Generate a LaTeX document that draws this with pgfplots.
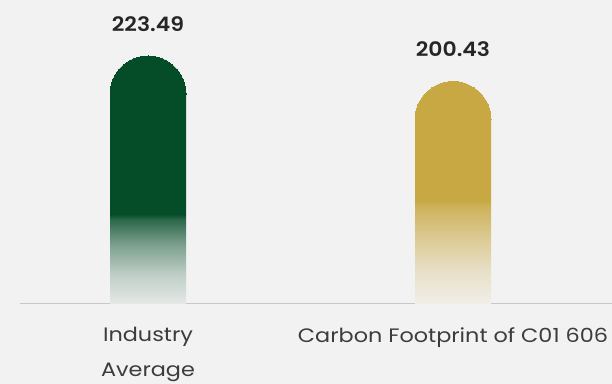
\documentclass[border=0pt]{standalone}
\usepackage{pgfplots}
\pgfplotsset{compat=1.18}
\usepackage{pgfplotstable}
\usepackage{fontspec}
\setmainfont{Poppins}[FakeStretch=1.15]
\newfontfamily\semib{Poppins SemiBold}[FakeStretch=1.1]
\definecolor{bgc}{RGB}{242,242,242}
\definecolor{gcol}{RGB}{5,77,41}
\definecolor{ycol}{RGB}{200,168,66}
\definecolor{linec}{RGB}{200,200,200}
\definecolor{txtc}{RGB}{38,38,38}
\colorlet{gA}{gcol!6!bgc}
\colorlet{gB}{gcol!22!bgc}
\colorlet{gC}{gcol!50!bgc}
\colorlet{gD}{gcol!84!bgc}
\colorlet{yA}{ycol!6!bgc}
\colorlet{yB}{ycol!25!bgc}
\colorlet{yC}{ycol!55!bgc}
\colorlet{yD}{ycol!85!bgc}
\pgfdeclareverticalshading{greenfade}{100bp}{color(0bp)=(gA); color(25bp)=(gA); color(32bp)=(gB); color(39bp)=(gC); color(45bp)=(gD); color(46.2bp)=(gcol); color(100bp)=(gcol)}
\pgfdeclareverticalshading{goldfade}{100bp}{color(0bp)=(yA); color(25bp)=(yA); color(34bp)=(yB); color(43bp)=(yC); color(51bp)=(yD); color(53bp)=(ycol); color(100bp)=(ycol)}
\pgfplotstableread{
x v lab
0 223.49 223.49
}\tabA
\pgfplotstableread{
x v lab
1 200.43 200.43
}\tabB
\begin{document}
\begin{tikzpicture}
\useasboundingbox (-20bp,-81bp) rectangle (592bp,303bp);
\clip (-20bp,-81bp) rectangle (592bp,303bp);
\fill[bgc] (-20bp,-81bp) rectangle (592bp,303bp);
\begin{axis}[
  at={(0,0)}, anchor=south west,
  scale only axis, width=592bp, height=303bp,
  xmin=-0.4197, xmax=1.5213, ymin=0, ymax=274.16,
  enlargelimits=false,
  axis x line=bottom, axis y line=none,
  axis line style={draw=linec, line width=1pt, -},
  xtick={0,1}, major tick length=0pt,
  xticklabels={Industry\\Average, Carbon Footprint of C01 606},
  xticklabel style={align=center, font=\fontsize{19.5}{35}\selectfont, text=txtc!90!white, yshift=-21bp},
  ytick=\empty,
  clip=false,
]
\addplot[ybar, bar width=76bp, bar shift=0pt, draw=none, shading=greenfade] table[x=x, y expr=\thisrow{v}-34.38] {\tabA};
\addplot[only marks, color=gcol, mark=*, mark size=38bp, mark options={draw=gcol, fill=gcol, line width=0pt}] table[x=x, y expr=\thisrow{v}-34.38] {\tabA};
\addplot[ybar, bar width=76bp, bar shift=0pt, draw=none, shading=goldfade] table[x=x, y expr=\thisrow{v}-34.38] {\tabB};
\addplot[only marks, color=ycol, mark=*, mark size=38bp, mark options={draw=ycol, fill=ycol, line width=0pt}] table[x=x, y expr=\thisrow{v}-34.38] {\tabB};
\addplot[draw=none, mark=none, nodes near coords, point meta=explicit symbolic,
  every node near coord/.append style={anchor=base, yshift=25bp, font=\fontsize{20}{22}\semib, text=txtc}]
  table[x=x, y=v, meta=lab] {\tabA};
\addplot[draw=none, mark=none, nodes near coords, point meta=explicit symbolic,
  every node near coord/.append style={anchor=base, yshift=25bp, font=\fontsize{20}{22}\semib, text=txtc}]
  table[x=x, y=v, meta=lab] {\tabB};
\end{axis}
\end{tikzpicture}
\end{document}
